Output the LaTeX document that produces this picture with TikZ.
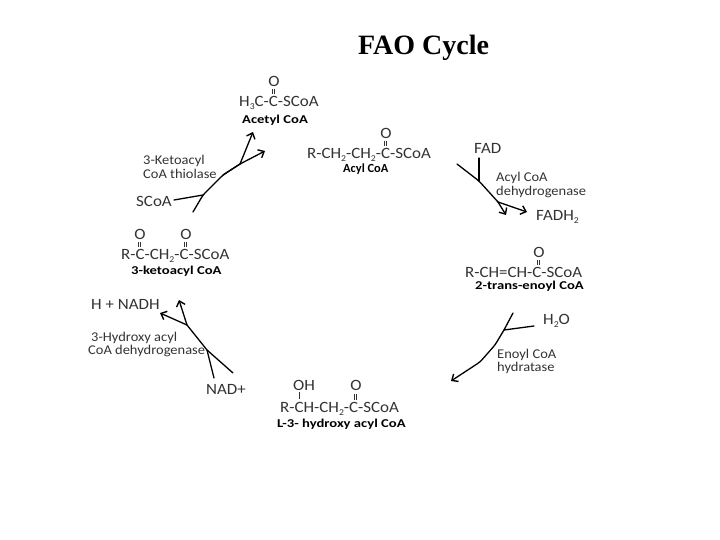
\documentclass[tikz,border=0pt]{standalone}
\usepackage{fontspec}
\setmainfont{Carlito}
\newfontfamily\titlefont{Liberation Serif}
\newfontfamily\widefont[FakeStretch=1.08]{Carlito}
\newfontfamily\tagfont[FakeStretch=1.22]{Carlito}
\usetikzlibrary{arrows.meta}
\definecolor{ink}{HTML}{333333}
\newcommand{\sbs}[1]{\raisebox{-0.15em}{\fontsize{9}{9}\selectfont #1}}
\tikzset{
  chem/.style={inner sep=0pt,anchor=west,yshift=-1.8pt,text=ink,font=\fontsize{15.7}{17}\selectfont\widefont},
  atom/.style={inner sep=0pt,anchor=center,text=ink,font=\fontsize{15.7}{17}\selectfont\widefont},
  tag/.style={inner sep=0pt,anchor=west,yshift=-0.8pt,text=black,font=\fontsize{12}{14}\selectfont\tagfont\bfseries},
  enz/.style={inner sep=0pt,anchor=west,yshift=-1pt,text=ink,font=\fontsize{13.4}{15}\selectfont\widefont},
  cof/.style={inner sep=0pt,anchor=west,text=ink,font=\fontsize{15.7}{17}\selectfont\widefont},
  bond/.style={draw=ink,line width=0.7pt},
  rx/.style={draw=black,line width=1.3pt,line cap=round,line join=round,rounded corners=3pt},
  rxa/.style={rx,-{Straight Barb[length=5pt,width=9pt,line width=1.4pt]}}
}
\begin{document}
\begin{tikzpicture}[x=1pt,y=-1pt]
\useasboundingbox (0,0) rectangle (720,540);
% title
\node[inner sep=0pt,anchor=west,font=\fontsize{28}{30}\selectfont\titlefont\bfseries] (title) at (358,48) {FAO Cycle};
% acetyl CoA
\node[atom] (acetO) at (274,81) {O};
\node[chem] (acet) at (239,101) {H\sbs{3}C-C-SCoA};
\node[tag] (acetL) at (242,119) {Acetyl CoA};
\draw[bond] (272.3,89)--(272.3,94) (274.5,89)--(274.5,94);
% acyl CoA
\node[atom] (acylO) at (386,133) {O};
\node[chem] (acyl) at (307,153) {R-CH\sbs{2}-CH\sbs{2}-C-SCoA};
\node[tag,font=\fontsize{12.4}{14}\selectfont\bfseries] (acylL) at (343,168) {Acyl CoA};
\draw[bond] (384,141)--(384,146) (386.2,141)--(386.2,146);
% 2-trans-enoyl
\node[atom] (enoylO) at (539,252) {O};
\node[chem] (enoyl) at (465,271) {R-CH=CH-C-SCoA};
\node[tag] (enoylL) at (475,285) {2-trans-enoyl CoA};
\draw[bond] (537,260)--(537,265) (539.2,260)--(539.2,265);
% L-3-hydroxy
\node[atom] (hydOH) at (304,385) {OH};
\node[atom] (hydO) at (356,385) {O};
\node[chem] (hyd) at (280,407) {R-CH-CH\sbs{2}-C-SCoA};
\node[tag] (hydL) at (277,423) {L-3- hydroxy acyl CoA};
\draw[bond] (299,392)--(299,399);
\draw[bond] (354,394)--(354,400) (356.2,394)--(356.2,400);
% 3-ketoacyl
\node[atom] (ketO1) at (140,234) {O};
\node[atom] (ketO2) at (186,234) {O};
\node[chem] (ket) at (121,254) {R-C-CH\sbs{2}-C-SCoA};
\node[tag] (ketL) at (131,270) {3-ketoacyl CoA};
\draw[bond] (138,242)--(138,247) (140.2,242)--(140.2,247);
\draw[bond] (184.5,242)--(184.5,247) (186.7,242)--(186.7,247);
% enzymes
\node[enz] (e1a) at (143,160) {3-Ketoacyl};
\node[enz] (e1b) at (143,173) {CoA thiolase};
\node[enz] (e2a) at (496,177) {Acyl CoA};
\node[enz] (e2b) at (496,191) {dehydrogenase};
\node[enz] (e3a) at (497,354) {Enoyl CoA};
\node[enz] (e3b) at (497,367) {hydratase};
\node[enz] (e4a) at (91,337) {3-Hydroxy acyl};
\node[enz] (e4b) at (88,350) {CoA dehydrogenase};
% cofactors
\node[cof] (scoa) at (136,201) {SCoA};
\node[cof] (fad) at (474,148) {FAD};
\node[cof] (fadh) at (536,217) {FADH\sbs{2}};
\node[cof] (water) at (543,321) {H\sbs{2}O};
\node[cof] (nadh) at (91,304) {H + NADH};
\node[cof] (nad) at (206,389) {NAD+};
% junctions and free ends
\coordinate (k0) at (193,212); \coordinate (k1) at (203,195); \coordinate (k2) at (223,175);
\coordinate (k3) at (240,164); \coordinate (k4) at (265,151); \coordinate (k5) at (253,132);
\coordinate (d0) at (457,164); \coordinate (d1) at (479,181); \coordinate (d2) at (498,202);
\coordinate (d3) at (506,215); \coordinate (d4) at (527,212); \coordinate (d5) at (479,158);
\coordinate (h0) at (513,313); \coordinate (h1) at (504,330); \coordinate (h2) at (480,362);
\coordinate (h3) at (451,381); \coordinate (h4) at (534,326);
\coordinate (n0) at (233,373); \coordinate (n1) at (207,350); \coordinate (n2) at (187,325);
\coordinate (n3) at (160,313); \coordinate (n4) at (179,300); \coordinate (n5) at (214,378);
% thiolase
\draw[rx] (k0)--(k1)--(k2)--(k3);
\draw[rxa] (k2)--(k3)--(k4);
\draw[rxa] (k3)--(k5);
\draw[rx] (174,200) -- (k1);
% dehydrogenase
\draw[rx] (d0)--(d1)--(d2);
\draw[rxa] (d2)--(d3);
\draw[rxa] (d2)--(d4);
\draw[rx] (d5)--(d1);
% hydratase
\draw[rx] (h0)--(h1);
\draw[rx] (h4)--(h1);
\draw[rxa] (h1)--(495,345)--(h2)--(h3);
% hydroxyacyl dehydrogenase
\draw[rx] (n0)--(n1);
\draw[rx] (n1)--(n2);
\draw[rxa] (n2)--(n3);
\draw[rx] (n5)--(n1);
\draw[rxa] (n2)--(n4);
\end{tikzpicture}
\end{document}
